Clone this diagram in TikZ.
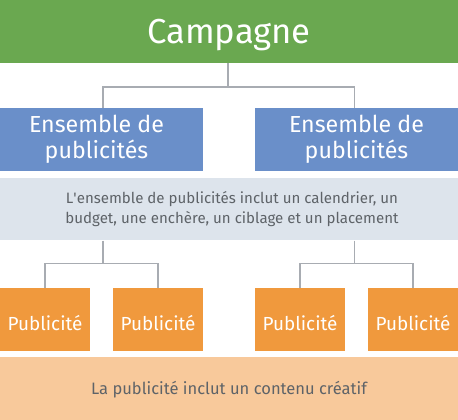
\documentclass[tikz,border=0pt]{standalone}
\usepackage{fontspec}
\setmainfont{Fira Sans}
\definecolor{cgreen}{HTML}{6AA850}
\definecolor{cblue}{HTML}{6A8FC9}
\definecolor{cgray}{HTML}{DDE4EC}
\definecolor{corange}{HTML}{F0993D}
\definecolor{cpeach}{HTML}{F8C99B}
\definecolor{cline}{HTML}{A8ACB2}
\definecolor{ctext}{HTML}{5E6368}
\begin{document}
\begin{tikzpicture}[x=0.75pt,y=-0.75pt,
  band/.style={rectangle,inner sep=0pt,minimum width=343.5pt,minimum height=47pt,align=center},
  greenband/.style={band,fill=cgreen,text=white,font=\fontsize{26}{30}\selectfont,text height=18.4pt,text depth=0pt},
  setbox/.style={rectangle,inner sep=0pt,minimum height=47pt,fill=cblue,text=white,align=center,font=\fontsize{17.4}{19.5}\selectfont},
  infoband/.style={band,fill=cgray,text=ctext,font=\fontsize{11.3}{15}\selectfont},
  adbox/.style={rectangle,inner sep=0pt,minimum width=67.5pt,minimum height=47pt,fill=corange,text=white,font=\fontsize{14.2}{16}\selectfont,text height=16.6pt,text depth=0pt},
  peachband/.style={band,fill=cpeach,text=ctext,font=\fontsize{12.4}{15}\selectfont,text height=9.5pt,text depth=0pt},
  conn/.style={draw=cline,line width=1.1pt}]
\useasboundingbox (0,0) rectangle (458,420);
\node[greenband] (camp) at (229,31.25) {Campagne};
\node[setbox,minimum width=159.75pt] (bl) at (96.5,139.6) {Ensemble de\\publicités};
\node[setbox,minimum width=152.25pt] (br) at (356.5,139.6) {Ensemble de\\publicités};
\node[infoband] (info) at (229,209) {\hspace*{4.5pt}L\textquotesingle ensemble de publicités inclut un calendrier, un\\\hspace*{4.5pt}budget, une enchère, un ciblage et un placement};
\node[adbox] (a1) at (45,319.6) {Publicité};
\node[adbox] (a2) at (158,319.6) {Publicité};
\node[adbox] (a3) at (300,319.6) {Publicité};
\node[adbox] (a4) at (413,319.6) {Publicité};
\node[peachband] (crea) at (229,388.4) {La publicité inclut un contenu créatif};
\coordinate (j0) at (228,87);
\coordinate (j1) at (103,263.5);
\coordinate (j2) at (354.5,263.5);
\draw[conn] (camp.south -| j0) -- (j0);
\draw[conn] ([xshift=4.9pt]bl.north) |- (j0) -| (br.north -| j2);
\draw[conn] (info.south -| j1) -- (j1);
\draw[conn] (a1.north) |- (j1) -| (a2.north);
\draw[conn] (info.south -| j2) -- (j2);
\draw[conn] (a3.north) |- (j2) -| (a4.north);
\end{tikzpicture}
\end{document}
